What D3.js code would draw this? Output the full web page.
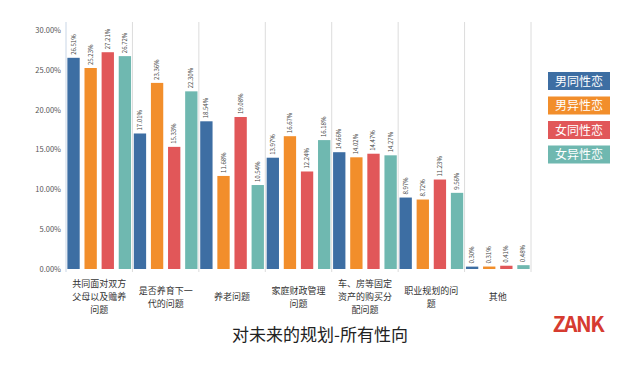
<!DOCTYPE html>
<html>
<head>
<meta charset="utf-8">
<script src="https://cdn.jsdelivr.net/npm/d3@7"></script>
<style>
  body { margin: 0; background: #fff; }
  text { font-family: "Noto Sans CJK SC", "Noto Sans", sans-serif; }
</style>
</head>
<body>
<div id="chart"></div>
<script>
// data
var categories = [
  ["共同面对双方", "父母以及赡养", "问题"],
  ["是否养育下一", "代的问题"],
  ["养老问题"],
  ["家庭财政管理", "问题"],
  ["车、房等固定", "资产的购买分", "配问题"],
  ["职业规划的问", "题"],
  ["其他"]
];
var seriesNames = ["男同性恋", "男异性恋", "女同性恋", "女异性恋"];
var gayMale     = [26.51, 17.01, 18.54, 13.97, 14.66, 8.97, 0.30];
var straightMale = [25.23, 23.36, 11.68, 16.67, 14.02, 8.72, 0.31];
var lesbian     = [27.21, 15.33, 19.08, 12.24, 14.47, 11.23, 0.41];
var straightFemale = [26.72, 22.30, 10.54, 16.18, 14.27, 9.56, 0.48];
var yTicks = [0, 5, 10, 15, 20, 25, 30];

var seriesValues = [gayMale, straightMale, lesbian, straightFemale];
var colors = ["#3d6ea3", "#f28e2b", "#e15759", "#6fb8b0"];

var svgWidth = 636, svgHeight = 374;
var svg = d3.select("#chart").append("svg")
  .attr("width", svgWidth)
  .attr("height", svgHeight);

// scales
var x0 = d3.scaleBand()
  .domain(d3.range(categories.length))
  .range([66, 531])
  .paddingInner(0);

var x1 = d3.scaleBand()
  .domain(d3.range(seriesNames.length))
  .range([0, x0.bandwidth()])
  .paddingInner(0.28)
  .paddingOuter(0.08);

var y = d3.scaleLinear()
  .domain([0, 30])
  .range([269, 30]);

// vertical separators between categories
svg.append("g")
  .selectAll("line")
  .data(d3.range(categories.length + 1))
  .enter().append("line")
  .attr("x1", d => d < categories.length ? x0(d) : x0(d - 1) + x0.bandwidth())
  .attr("x2", d => d < categories.length ? x0(d) : x0(d - 1) + x0.bandwidth())
  .attr("y1", 22)
  .attr("y2", 272)
  .attr("stroke", d => d === 0 ? "#c9d6e6" : "#dcdcdc")
  .attr("stroke-width", 1);

// y axis
var yAxis = d3.axisLeft(y)
  .tickValues(yTicks)
  .tickFormat(d => d.toFixed(2) + "%")
  .tickSize(0)
  .tickPadding(5);

var yG = svg.append("g")
  .attr("transform", "translate(66,0)")
  .call(yAxis);
yG.select(".domain").remove();
yG.selectAll("text")
  .attr("font-size", 7.5)
  .attr("fill", "#555");

// bars
var groups = svg.append("g")
  .selectAll("g")
  .data(categories)
  .enter().append("g")
  .attr("transform", (d, i) => `translate(${x0(i)},0)`);

groups.each(function(cat, ci) {
  var g = d3.select(this);
  var vals = seriesValues.map(s => s[ci]);

  g.selectAll("rect")
    .data(vals)
    .enter().append("rect")
    .attr("x", (d, si) => x1(si))
    .attr("y", d => y(d))
    .attr("width", x1.bandwidth())
    .attr("height", d => y(0) - y(d))
    .attr("fill", (d, si) => colors[si]);

  // rotated value labels
  g.selectAll("text.val")
    .data(vals)
    .enter().append("text")
    .attr("class", "val")
    .attr("transform", (d, si) => `translate(${x1(si) + x1.bandwidth() / 2 + 2},${y(d) - 3}) rotate(-90)`)
    .attr("font-size", 6)
    .attr("fill", "#444")
    .text(d => d.toFixed(2) + "%");
});

// category labels, one text per line
var lineH = 13;
var labelG = svg.append("g");
categories.forEach(function(lines, i) {
  var cx = x0(i) + x0.bandwidth() / 2;
  var startY = 297 - (lines.length - 1) * lineH / 2 + 3;
  lines.forEach(function(line, li) {
    labelG.append("text")
      .attr("x", cx)
      .attr("y", startY + li * lineH)
      .attr("text-anchor", "middle")
      .attr("font-size", 9)
      .attr("fill", "#333")
      .text(line);
  });
});

// legend
var legend = svg.append("g")
  .selectAll("g")
  .data(seriesNames)
  .enter().append("g")
  .attr("transform", (d, i) => `translate(548,${72 + i * 24.5})`);

legend.append("rect")
  .attr("width", 62)
  .attr("height", 18)
  .attr("fill", (d, i) => colors[i]);

legend.append("text")
  .attr("x", 31)
  .attr("y", 13.5)
  .attr("text-anchor", "middle")
  .attr("font-size", 12)
  .attr("fill", "#fff")
  .text(d => d);

// title
svg.append("text")
  .attr("x", 320)
  .attr("y", 341)
  .attr("text-anchor", "middle")
  .attr("font-size", 17)
  .attr("fill", "#222")
  .text("对未来的规划-所有性向");

// logo
svg.append("text")
  .attr("x", 578)
  .attr("y", 332)
  .attr("text-anchor", "middle")
  .attr("font-family", "Liberation Sans, Arial, sans-serif")
  .attr("font-weight", "bold")
  .attr("font-size", 21)
  .attr("letter-spacing", -1.5)
  .attr("fill", "#d63b30")
  .text("ZANK");
</script>
</body>
</html>
